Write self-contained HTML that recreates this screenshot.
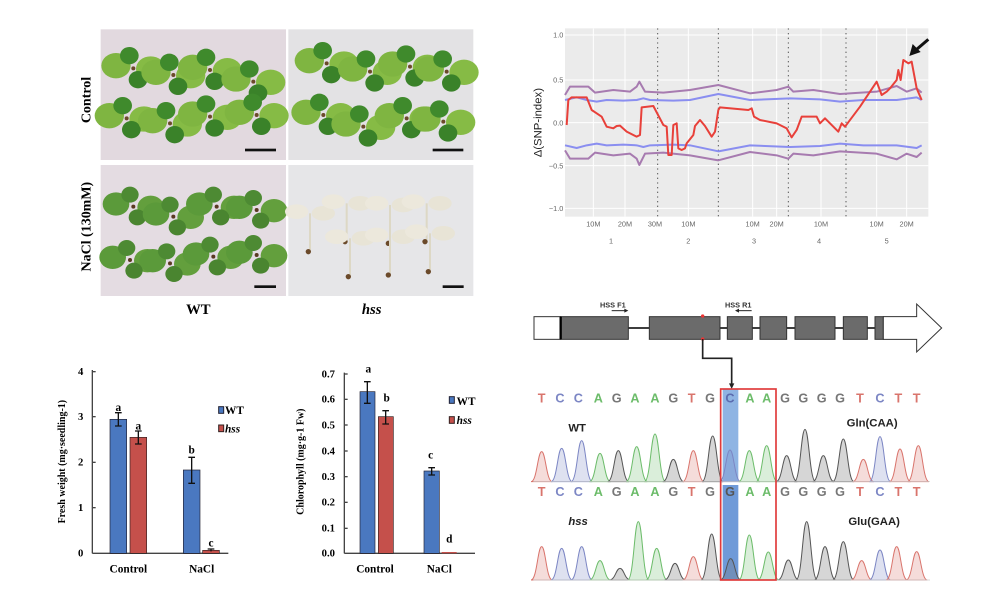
<!DOCTYPE html>
<html><head><meta charset="utf-8"><style>
html,body{margin:0;padding:0;background:#fff;}
svg{display:block}
.ser{font-family:"Liberation Serif",serif;font-weight:bold}
.sans{font-family:"Liberation Sans",sans-serif}
</style></head><body>
<svg width="993" height="592" viewBox="0 0 993 592" xmlns="http://www.w3.org/2000/svg">
<defs>
<g id="sd">
<ellipse cx="-52" cy="-8" rx="44" ry="38" fill="#7fb541"/>
<ellipse cx="52" cy="2" rx="44" ry="38" fill="#86bb45"/>
<ellipse cx="-12" cy="-38" rx="28" ry="26" fill="#3f8a2c"/>
<ellipse cx="14" cy="34" rx="28" ry="26" fill="#3a8229"/>
<circle cx="0" cy="0" r="6" fill="#6b4a2a"/>
</g>
<g id="sdn">
<ellipse cx="-52" cy="-8" rx="40" ry="35" fill="#5b9a3a"/>
<ellipse cx="52" cy="2" rx="40" ry="35" fill="#639f3d"/>
<ellipse cx="-10" cy="-36" rx="26" ry="24" fill="#4d8a33"/>
<ellipse cx="12" cy="32" rx="26" ry="24" fill="#4a8530"/>
<circle cx="0" cy="0" r="6" fill="#5a3a22"/>
</g>
<g id="sdw">
<ellipse cx="-40" cy="-5" rx="35" ry="22" fill="#ece8dc"/>
<ellipse cx="40" cy="0" rx="35" ry="22" fill="#e8e4d6"/>
<line x1="0" y1="0" x2="0" y2="110" stroke="#ddd8c5" stroke-width="6"/>
<circle cx="-5" cy="115" r="8" fill="#6b4a2a"/>
</g>
</defs>

<!-- photos -->
<g transform="translate(60 0) scale(0.33333)">
<rect x="122" y="88" width="556" height="392" fill="#e2d9df"/>
<rect x="685" y="88" width="555" height="392" fill="#e3e2e4"/>
<rect x="122" y="495" width="556" height="393" fill="#e4dce2"/>
<rect x="685" y="495" width="555" height="393" fill="#e6e6e8"/>
<use href="#sd" x="220" y="205"/><use href="#sd" x="340" y="225"/><use href="#sd" x="450" y="210"/><use href="#sd" x="580" y="245"/>
<use href="#sd" x="200" y="355"/><use href="#sd" x="330" y="370"/><use href="#sd" x="450" y="350"/><use href="#sd" x="590" y="345"/>
<use href="#sd" x="800" y="190"/><use href="#sd" x="930" y="215"/><use href="#sd" x="1050" y="200"/><use href="#sd" x="1160" y="215"/>
<use href="#sd" x="790" y="345"/><use href="#sd" x="910" y="380"/><use href="#sd" x="1040" y="355"/><use href="#sd" x="1150" y="365"/>
<use href="#sdn" x="220" y="620"/><use href="#sdn" x="340" y="650"/><use href="#sdn" x="470" y="620"/><use href="#sdn" x="590" y="630"/>
<use href="#sdn" x="210" y="780"/><use href="#sdn" x="330" y="790"/><use href="#sdn" x="460" y="770"/><use href="#sdn" x="590" y="765"/>
<use href="#sdw" x="750" y="640"/><use href="#sdw" x="860" y="610"/><use href="#sdw" x="990" y="615"/><use href="#sdw" x="1100" y="610"/>
<use href="#sdw" x="870" y="715"/><use href="#sdw" x="990" y="710"/><use href="#sdw" x="1110" y="700"/>
<rect x="555" y="446" width="93" height="8" fill="#111"/>
<rect x="1118" y="446" width="92" height="8" fill="#111"/>
<rect x="583" y="856" width="65" height="8" fill="#111"/>
<rect x="1148" y="856" width="63" height="8" fill="#111"/>
<text class="ser" font-size="42" transform="translate(92 300) rotate(-90)" text-anchor="middle">Control</text>
<text class="ser" font-size="42" transform="translate(92 680) rotate(-90)" text-anchor="middle">NaCl (130mM)</text>
<text class="ser" font-size="44" x="415" y="942" text-anchor="middle">WT</text>
<text class="ser" font-size="44" x="935" y="942" text-anchor="middle" font-style="italic">hss</text>
</g>

<!-- SNP plot -->
<g transform="translate(530 20) scale(0.33333)">
<rect x="105" y="25" width="1090" height="565" fill="#ebebeb"/>
<g stroke="#fff" stroke-width="3">
<line x1="105" y1="45" x2="1195" y2="45"/><line x1="105" y1="180" x2="1195" y2="180"/><line x1="105" y1="308" x2="1195" y2="308"/><line x1="105" y1="437" x2="1195" y2="437"/><line x1="105" y1="565" x2="1195" y2="565"/>
<line x1="190" y1="25" x2="190" y2="590"/><line x1="285" y1="25" x2="285" y2="590"/><line x1="475" y1="25" x2="475" y2="590"/><line x1="668" y1="25" x2="668" y2="590"/><line x1="740" y1="25" x2="740" y2="590"/><line x1="873" y1="25" x2="873" y2="590"/><line x1="1040" y1="25" x2="1040" y2="590"/><line x1="1130" y1="25" x2="1130" y2="590"/>
</g>
<g stroke="#555" stroke-width="3" stroke-dasharray="4 10">
<line x1="383" y1="25" x2="383" y2="590"/><line x1="565" y1="25" x2="565" y2="590"/><line x1="775" y1="25" x2="775" y2="590"/><line x1="948" y1="25" x2="948" y2="590"/>
</g>
<g fill="none" stroke-width="6" stroke-linejoin="round">
<polyline stroke="#a77bb0" points="105,225 120,200 175,200 195,218 250,210 300,215 320,200 328,185 345,215 400,218 480,210 565,195 660,220 740,210 775,200 790,215 850,210 930,222 1040,215 1100,198 1130,215 1160,205 1175,218"/>
<polyline stroke="#a77bb0" points="105,391 120,416 175,416 195,398 250,406 300,401 320,416 328,435 345,401 400,398 480,406 565,421 660,396 740,406 775,416 790,401 850,406 930,394 1040,401 1100,418 1130,401 1160,411 1175,398"/>
<polyline stroke="#8a8ef0" points="105,240 140,232 170,240 200,245 230,240 280,242 320,240 340,235 360,240 430,242 480,240 565,222 660,240 780,235 870,238 930,245 1000,240 1100,240 1160,232 1175,240"/>
<polyline stroke="#8a8ef0" points="105,376 140,384 170,376 200,371 230,376 280,374 320,376 340,381 360,376 430,374 480,376 565,394 660,376 780,381 870,378 930,371 1000,376 1100,376 1160,384 1175,376"/>
<polyline stroke="#e8403a" points="110,315 115,240 125,232 170,232 185,270 200,280 215,290 230,320 250,325 260,318 270,317 290,335 320,350 330,345 335,262 370,258 400,315 410,320 415,405 425,405 430,315 440,310 445,385 455,390 465,385 470,370 490,345 495,318 510,300 525,318 545,350 555,335 565,270 570,262 655,270 665,265 672,290 690,300 740,310 770,325 785,352 800,330 815,290 860,290 870,310 885,295 925,335 935,310 945,320 990,260 1040,185 1055,225 1070,215 1080,205 1100,180 1105,150 1112,180 1120,120 1135,130 1145,125 1160,205 1175,240"/>
</g>
<g class="sans" font-size="22" fill="#666" text-anchor="end">
<text x="100" y="53">1.0</text><text x="100" y="188">0.5</text><text x="100" y="316">0.0</text><text x="100" y="445">−0.5</text><text x="100" y="573">−1.0</text>
</g>
<g class="sans" font-size="22" fill="#666" text-anchor="middle">
<text x="190" y="620">10M</text><text x="285" y="620">20M</text><text x="375" y="620">30M</text><text x="475" y="620">10M</text><text x="668" y="620">10M</text><text x="740" y="620">20M</text><text x="873" y="620">10M</text><text x="1040" y="620">10M</text><text x="1130" y="620">20M</text>
<text x="243" y="670">1</text><text x="475" y="670">2</text><text x="672" y="670">3</text><text x="867" y="670">4</text><text x="1070" y="670">5</text>
</g>
<text class="sans" font-size="34" fill="#222" transform="translate(35 308) rotate(-90)" text-anchor="middle">Δ(SNP-index)</text>
<line x1="1195" y1="58" x2="1160" y2="88" stroke="#111" stroke-width="9"/>
<polygon points="1138,108 1148,72 1172,96" fill="#111"/>
</g>

<!-- gene + chromatogram -->
<g transform="translate(520 290) scale(0.33333)">
<line x1="122" y1="114" x2="1090" y2="114" stroke="#222" stroke-width="5"/>
<rect x="42" y="80" width="80" height="68" fill="#fff" stroke="#333" stroke-width="3"/>
<g fill="#6b6b6b" stroke="#333" stroke-width="3">
<rect x="122" y="80" width="203" height="68"/><rect x="388" y="80" width="212" height="68"/><rect x="622" y="80" width="75" height="68"/><rect x="720" y="80" width="80" height="68"/><rect x="825" y="80" width="120" height="68"/><rect x="970" y="80" width="72" height="68"/><rect x="1065" y="80" width="25" height="68"/>
</g>
<line x1="122" y1="80" x2="122" y2="148" stroke="#000" stroke-width="7"/>
<polygon points="1090,80 1190,80 1190,42 1265,114 1190,186 1190,148 1090,148" fill="#fff" stroke="#333" stroke-width="3"/>
<text class="sans" font-size="22" font-weight="bold" fill="#333" x="240" y="52">HSS F1</text>
<text class="sans" font-size="22" font-weight="bold" fill="#333" x="615" y="52">HSS R1</text>
<line x1="275" y1="62" x2="318" y2="62" stroke="#222" stroke-width="3"/><polygon points="325,62 313,56 313,68" fill="#222"/>
<line x1="652" y1="62" x2="695" y2="62" stroke="#222" stroke-width="3"/><polygon points="645,62 657,56 657,68" fill="#222"/>
<circle cx="548" cy="78" r="5" fill="#e33"/><circle cx="548" cy="147" r="5" fill="#e33"/>
<polyline points="548,147 548,205 635,205 635,285" fill="none" stroke="#222" stroke-width="5"/>
<polygon points="627,280 643,280 635,297" fill="#222"/>
<rect x="608" y="297" width="47" height="278" fill="#8fb4e3"/>
<rect x="608" y="585" width="47" height="285" fill="#6f9ad8"/>
<g class="sans" font-size="38" font-weight="bold" text-anchor="middle">
<text y="338"><tspan x="65" fill="#d9746c">T</tspan><tspan x="120" fill="#7c86c4">C</tspan><tspan x="175" fill="#7c86c4">C</tspan><tspan x="235" fill="#6cbc6a">A</tspan><tspan x="290" fill="#777">G</tspan><tspan x="345" fill="#6cbc6a">A</tspan><tspan x="405" fill="#6cbc6a">A</tspan><tspan x="460" fill="#777">G</tspan><tspan x="515" fill="#d9746c">T</tspan><tspan x="570" fill="#777">G</tspan><tspan x="630" fill="#5b6cb0">C</tspan><tspan x="690" fill="#6cbc6a">A</tspan><tspan x="740" fill="#6cbc6a">A</tspan><tspan x="795" fill="#777">G</tspan><tspan x="850" fill="#777">G</tspan><tspan x="905" fill="#777">G</tspan><tspan x="960" fill="#777">G</tspan><tspan x="1020" fill="#d9746c">T</tspan><tspan x="1080" fill="#7c86c4">C</tspan><tspan x="1135" fill="#d9746c">T</tspan><tspan x="1190" fill="#d9746c">T</tspan></text>
<text y="618"><tspan x="65" fill="#d9746c">T</tspan><tspan x="120" fill="#7c86c4">C</tspan><tspan x="175" fill="#7c86c4">C</tspan><tspan x="235" fill="#6cbc6a">A</tspan><tspan x="290" fill="#777">G</tspan><tspan x="345" fill="#6cbc6a">A</tspan><tspan x="405" fill="#6cbc6a">A</tspan><tspan x="460" fill="#777">G</tspan><tspan x="515" fill="#d9746c">T</tspan><tspan x="570" fill="#777">G</tspan><tspan x="630" fill="#555">G</tspan><tspan x="690" fill="#6cbc6a">A</tspan><tspan x="740" fill="#6cbc6a">A</tspan><tspan x="795" fill="#777">G</tspan><tspan x="850" fill="#777">G</tspan><tspan x="905" fill="#777">G</tspan><tspan x="960" fill="#777">G</tspan><tspan x="1020" fill="#d9746c">T</tspan><tspan x="1080" fill="#7c86c4">C</tspan><tspan x="1135" fill="#d9746c">T</tspan><tspan x="1190" fill="#d9746c">T</tspan></text>
</g>
<g class="sans" font-size="34" font-weight="bold" fill="#222">
<text x="145" y="425">WT</text><text x="980" y="410">Gln(CAA)</text>
<text x="145" y="705" font-style="italic">hss</text><text x="985" y="705">Glu(GAA)</text>
</g>
<g stroke-width="3" id="peaks"></g>
<line x1="40" y1="575" x2="1230" y2="575" stroke="#ccc" stroke-width="2"/>
<line x1="40" y1="870" x2="1230" y2="870" stroke="#ccc" stroke-width="2"/>
<rect x="602" y="297" width="166" height="573" fill="none" stroke="#e03a3a" stroke-width="5"/>
</g>

<!-- bar charts -->
<g transform="translate(60 350) scale(0.33333)" class="ser">
<line x1="97" y1="60" x2="97" y2="610" stroke="#444" stroke-width="4"/>
<line x1="97" y1="610" x2="505" y2="610" stroke="#444" stroke-width="4"/>
<g stroke="#444" stroke-width="4"><line x1="97" y1="65" x2="107" y2="65"/><line x1="97" y1="200" x2="107" y2="200"/><line x1="97" y1="337" x2="107" y2="337"/><line x1="97" y1="473" x2="107" y2="473"/></g>
<g font-size="32" text-anchor="end"><text x="70" y="75">4</text><text x="70" y="210">3</text><text x="70" y="347">2</text><text x="70" y="483">1</text><text x="70" y="620">0</text></g>
<text font-size="30" transform="translate(15 335) rotate(-90)" text-anchor="middle">Fresh weight (mg·seedling-1)</text>
<rect x="150" y="208" width="50" height="402" fill="#4a78c0" stroke="#223" stroke-width="2"/>
<rect x="210" y="262" width="50" height="348" fill="#c5504b" stroke="#322" stroke-width="2"/>
<rect x="370" y="360" width="50" height="250" fill="#4a78c0" stroke="#223" stroke-width="2"/>
<rect x="428" y="601" width="50" height="9" fill="#c5504b" stroke="#322" stroke-width="2"/>
<g stroke="#111" stroke-width="4" fill="none">
<path d="M175 188V228M165 188H185M165 228H185"/><path d="M235 243V282M225 243H245M225 282H245"/><path d="M395 322V400M385 322H405M385 400H405"/><path d="M453 597V604M443 597H463"/>
</g>
<g font-size="34" text-anchor="middle"><text x="175" y="183">a</text><text x="235" y="238">a</text><text x="395" y="310">b</text><text x="453" y="590">c</text>
<text x="205" y="668">Control</text><text x="425" y="668">NaCl</text></g>
<rect x="476" y="170" width="15" height="20" fill="#4a78c0" stroke="#223" stroke-width="3"/>
<rect x="476" y="225" width="15" height="20" fill="#c5504b" stroke="#322" stroke-width="3"/>
<text font-size="34" x="495" y="192">WT</text><text font-size="34" x="495" y="247" font-style="italic">hss</text>

<line x1="853" y1="68" x2="853" y2="610" stroke="#444" stroke-width="4"/>
<line x1="853" y1="610" x2="1245" y2="610" stroke="#444" stroke-width="4"/>
<g stroke="#444" stroke-width="4"><line x1="853" y1="72" x2="863" y2="72"/><line x1="853" y1="148" x2="863" y2="148"/><line x1="853" y1="225" x2="863" y2="225"/><line x1="853" y1="303" x2="863" y2="303"/><line x1="853" y1="380" x2="863" y2="380"/><line x1="853" y1="457" x2="863" y2="457"/><line x1="853" y1="535" x2="863" y2="535"/></g>
<g font-size="32" text-anchor="end"><text x="825" y="82">0.7</text><text x="825" y="158">0.6</text><text x="825" y="235">0.5</text><text x="825" y="313">0.4</text><text x="825" y="390">0.3</text><text x="825" y="467">0.2</text><text x="825" y="545">0.1</text><text x="825" y="620">0.0</text></g>
<text font-size="30" transform="translate(730 335) rotate(-90)" text-anchor="middle">Chlorophyll (mg·g-1 Fw)</text>
<rect x="900" y="125" width="45" height="485" fill="#4a78c0" stroke="#223" stroke-width="2"/>
<rect x="955" y="200" width="45" height="410" fill="#c5504b" stroke="#322" stroke-width="2"/>
<rect x="1092" y="363" width="46" height="247" fill="#4a78c0" stroke="#223" stroke-width="2"/>
<rect x="1145" y="606" width="45" height="4" fill="#c5504b"/>
<g stroke="#111" stroke-width="4" fill="none">
<path d="M922 95V160M912 95H932M912 160H932"/><path d="M977 182V222M967 182H987M967 222H987"/><path d="M1115 353V375M1105 353H1125M1105 375H1125"/>
</g>
<g font-size="34" text-anchor="middle"><text x="925" y="68">a</text><text x="980" y="155">b</text><text x="1112" y="325">c</text><text x="1168" y="578">d</text>
<text x="945" y="668">Control</text><text x="1138" y="668">NaCl</text></g>
<rect x="1168" y="140" width="15" height="20" fill="#4a78c0" stroke="#223" stroke-width="3"/>
<rect x="1168" y="200" width="15" height="20" fill="#c5504b" stroke="#322" stroke-width="3"/>
<text font-size="34" x="1190" y="165">WT</text><text font-size="34" x="1190" y="222" font-style="italic">hss</text>
</g>
</svg>
<script>
(function(){
var ns="http://www.w3.org/2000/svg",g=document.getElementById("peaks");
var col={r:["#d9746c","rgba(217,116,108,0.25)"],b:["#7c86c4","rgba(124,134,196,0.25)"],g:["#6cbc6a","rgba(108,188,106,0.25)"],k:["#555","rgba(120,120,120,0.3)"]};
function row(base,arr){arr.forEach(function(p){var x=p[0],t=p[1],c=col[p[2]];
var d="M"+(x-32)+" "+base+" C"+(x-14)+" "+base+" "+(x-12)+" "+t+" "+x+" "+t+" C"+(x+12)+" "+t+" "+(x+14)+" "+base+" "+(x+32)+" "+base+"Z";
var e=document.createElementNS(ns,"path");e.setAttribute("d",d);e.setAttribute("fill",c[1]);e.setAttribute("stroke",c[0]);g.appendChild(e);});}
row(575,[[65,485,"r"],[125,475,"b"],[185,452,"b"],[240,490,"g"],[295,482,"k"],[350,470,"g"],[405,432,"g"],[460,508,"k"],[520,482,"r"],[578,438,"k"],[630,480,"b"],[688,482,"g"],[740,467,"g"],[800,497,"k"],[855,418,"k"],[910,497,"k"],[970,447,"k"],[1030,508,"r"],[1080,440,"b"],[1140,477,"r"],[1195,467,"r"]]);
row(870,[[65,770,"r"],[125,775,"b"],[185,770,"b"],[240,812,"g"],[300,835,"k"],[355,695,"g"],[410,775,"g"],[465,820,"k"],[520,800,"r"],[575,732,"k"],[632,806,"k"],[688,735,"g"],[745,786,"g"],[805,810,"k"],[860,695,"k"],[915,770,"k"],[970,755,"k"],[1025,812,"r"],[1080,780,"b"],[1130,770,"r"],[1190,785,"r"]]);
})();
</script>
</body></html>
